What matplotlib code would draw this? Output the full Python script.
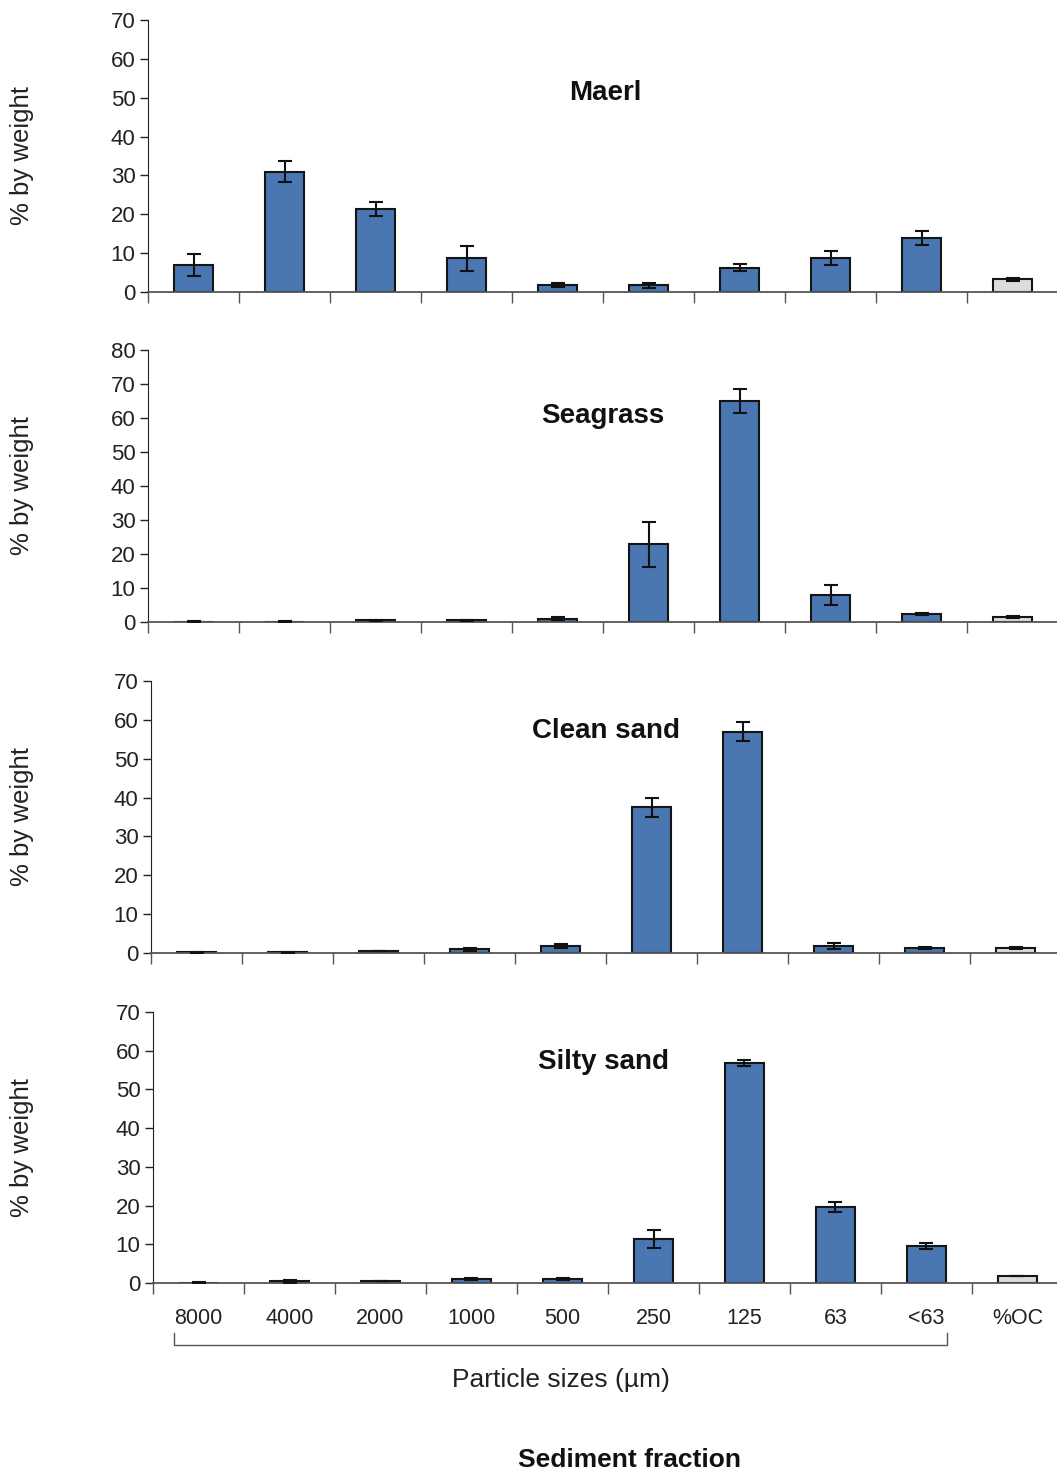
import matplotlib
matplotlib.use("Agg")
import matplotlib.pyplot as plt
import numpy as np

categories = ["8000", "4000", "2000", "1000", "500", "250", "125", "63", "<63", "%OC"]

maerl_vals = [7.0, 31.0, 21.4, 8.7, 1.7, 1.7, 6.2, 8.7, 13.9, 3.3]
maerl_err = [2.8, 2.7, 1.8, 3.2, 0.5, 0.6, 0.9, 1.8, 1.8, 0.4]

seagrass_vals = [0.1, 0.1, 0.5, 0.5, 1.0, 22.8, 65.0, 7.9, 2.3, 1.5]
seagrass_err = [0.1, 0.1, 0.2, 0.2, 0.5, 6.7, 3.5, 3.0, 0.3, 0.2]

clean_vals = [0.2, 0.2, 0.5, 1.0, 1.8, 37.5, 57.0, 1.8, 1.3, 1.3]
clean_err = [0.1, 0.1, 0.1, 0.4, 0.5, 2.5, 2.5, 0.8, 0.2, 0.2]

silty_vals = [0.1, 0.5, 0.5, 1.0, 1.0, 11.4, 56.9, 19.6, 9.6, 1.8]
silty_err = [0.1, 0.4, 0.1, 0.3, 0.2, 2.3, 0.8, 1.2, 0.8, 0.1]

panel_titles = ["Maerl", "Seagrass", "Clean sand", "Silty sand"]
panel_vals = [maerl_vals, seagrass_vals, clean_vals, silty_vals]
panel_errs = [maerl_err, seagrass_err, clean_err, silty_err]
panel_ymax = [70, 80, 70, 70]
title_pos = [(0.502, 0.73), (0.50, 0.757), (0.50, 0.816), (0.495, 0.815)]

BLUE = "#4a76b2"
GREY = "#dcdcdc"
colors = [BLUE] * 9 + [GREY]

W, H = 1057, 1475
fig = plt.figure(figsize=(W / 100, H / 100), dpi=100)

plt.rcParams['font.family'] = ['Liberation Sans', 'DejaVu Sans']

# pixel geometry of axes: (left, top, bottom)
geo = [(148, 20, 292), (148, 350, 622), (151, 681, 953), (153, 1012, 1283)]
axes = []
for i, (l, t, b) in enumerate(geo):
    ax = fig.add_axes([l / W, 1 - b / H, 910 / W, (b - t) / H])
    axes.append(ax)
    x = np.arange(len(categories))
    ax.bar(x, panel_vals[i], width=0.42, color=colors, edgecolor="#151515",
           linewidth=1.5, zorder=2)
    ax.errorbar(x, panel_vals[i], yerr=panel_errs[i], fmt="none",
                ecolor="#111111", elinewidth=1.5, capsize=5, capthick=1.5, zorder=3)
    ax.set_xlim(-0.5, 9.5)
    ax.set_ylim(0, panel_ymax[i])
    ax.set_yticks(np.arange(0, panel_ymax[i] + 1, 10))
    ax.spines["top"].set_visible(False)
    ax.spines["right"].set_visible(False)
    ax.spines["left"].set_color("#222222")
    ax.spines["bottom"].set_color("#555555")
    ax.spines["bottom"].set_linewidth(1.3)
    ax.tick_params(axis="y", direction="out", length=6, width=1, labelsize=16,
                   colors="#222222", pad=3)
    ax.set_xticks(np.arange(-0.5, 10, 1.0), minor=True)
    ax.tick_params(axis="x", which="minor", direction="out", length=8, width=1,
                   color="#555555")
    if i < 3:
        ax.set_xticks([])
    else:
        ax.set_xticks(x)
        ax.set_xticklabels(categories, fontsize=15.5)
        ax.tick_params(axis="x", which="major", length=0, pad=18, labelcolor="#222222")
    ax.text(title_pos[i][0], title_pos[i][1], panel_titles[i], transform=ax.transAxes,
            ha="center", va="center", fontsize=20, fontweight="bold",
            color="#111111")
    fig.text(22 / W, 1 - ((t + b) / 2) / H, "% by weight", rotation=90,
             ha="center", va="center", fontsize=18.5, color="#222222")

# bracket under particle size labels
ax4 = axes[3]
bx0, bx1 = -0.27, 8.23
ax4.plot([bx0, bx0, bx1, bx1], [-0.185, -0.229, -0.229, -0.185], color="#555555",
         lw=1, clip_on=False, transform=ax4.get_xaxis_transform())

fig.text(561 / W, 1 - 1380 / H, "Particle sizes (\u00b5m)", ha="center", va="center",
         fontsize=19, color="#222222")
fig.text(630 / W, 1 - 1460 / H, "Sediment fraction", ha="center", va="center",
         fontsize=19, fontweight="bold", color="#111111")

fig.savefig("out.png", dpi=100)
